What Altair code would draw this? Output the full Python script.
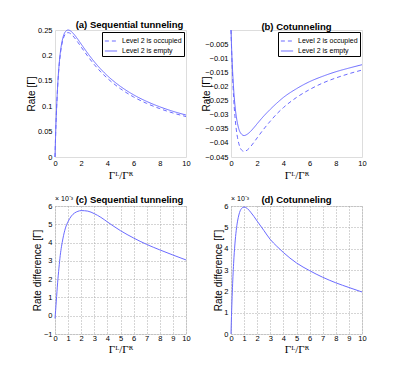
import altair as alt
import pandas as pd

# Ratio Gamma^L / Gamma^R
x_vals = [0, 0.05, 0.1, 0.2, 0.3, 0.4, 0.5, 0.6, 0.8, 1.0, 1.25, 1.5, 1.75, 2.0,
          2.5, 3.0, 3.5, 4.0, 5.0, 6.0, 7.0, 8.0, 9.0, 10.0]

# (a) Sequential tunneling rates
seq_empty = [0.0, 0.0454, 0.0826, 0.1389, 0.1775, 0.2041, 0.2222, 0.2344, 0.2469, 0.25,
             0.2469, 0.24, 0.2314, 0.2222, 0.2041, 0.1875, 0.1728, 0.16, 0.1389, 0.1224,
             0.1094, 0.0988, 0.09, 0.0826]
seq_occ = [0.0, 0.0451, 0.0818, 0.1371, 0.1749, 0.2008, 0.2184, 0.2302, 0.2421, 0.2449,
           0.2415, 0.2344, 0.2257, 0.2165, 0.1984, 0.1819, 0.1674, 0.1549, 0.1343, 0.1182,
           0.1055, 0.0952, 0.0867, 0.0796]

# (b) Cotunneling rates
cot_empty = [0.0, -0.0068, -0.0124, -0.0208, -0.0266, -0.0305, -0.0332, -0.0351, -0.0369,
             -0.0374, -0.0369, -0.0359, -0.0346, -0.0332, -0.0305, -0.0281, -0.0259,
             -0.0239, -0.0208, -0.0183, -0.0164, -0.0148, -0.0135, -0.0123]
cot_occ = [0.0, -0.0078, -0.0142, -0.0239, -0.0305, -0.0351, -0.0382, -0.0403, -0.0425,
           -0.0430, -0.0425, -0.0413, -0.0398, -0.0382, -0.0351, -0.0323, -0.0297,
           -0.0275, -0.0239, -0.0211, -0.0188, -0.0170, -0.0155, -0.0142]

# (c), (d) Rate differences (x 10^-3)
seq_diff = [-0.15, 0.3, 0.8, 1.8, 2.6, 3.3, 3.8, 4.2, 4.8, 5.15, 5.45, 5.62, 5.71, 5.75,
            5.72, 5.58, 5.38, 5.13, 4.65, 4.25, 3.9, 3.6, 3.32, 3.05]
cot_diff = [0.0, 1.08, 1.97, 3.31, 4.22, 4.86, 5.29, 5.58, 5.88, 5.95, 5.88, 5.71, 5.51,
            5.29, 4.86, 4.43, 4.11, 3.82, 3.33, 2.97, 2.66, 2.4, 2.18, 1.97]

series_names = ["Level 2 is occupied", "Level 2 is empty"]

LINE = "#6b6bff"
FONT = "Liberation Sans"
SERIF = "Liberation Serif"
XTITLE = "Γᴸ/Γᴿ"


def long_df(occ, emp):
    return pd.DataFrame({
        "x": x_vals + x_vals,
        "y": occ + emp,
        "s": [series_names[0]] * len(x_vals) + [series_names[1]] * len(x_vals),
    })


def xaxis(ticks, grid, pad, tpad):
    return alt.Axis(values=ticks, grid=grid, gridDash=[1, 2], gridColor="#aaaaaa",
                    domain=False, ticks=False, labelFontSize=7.5, labelFont=FONT,
                    labelColor="black", labelPadding=pad, title=XTITLE, titleFont=SERIF,
                    titleFontSize=11, titleFontWeight="normal", titleColor="black",
                    titlePadding=tpad, labelFlush=False)


def yaxis(ticks, grid, title, tx, fmt):
    return alt.Axis(values=ticks, grid=grid, gridDash=[1, 2], gridColor="#aaaaaa",
                    domain=False, ticks=False, labelFontSize=7.5, labelFont=FONT,
                    labelColor="black", labelPadding=3, title=title, titleFont=FONT,
                    titleFontSize=10, titleFontWeight="normal", titleColor="black",
                    titleX=tx, titleBaseline="middle", format=fmt, labelFlush=False)


def ptitle(text, dx, off):
    return alt.TitleParams(text=text, fontSize=9.5, fontWeight="bold", font=FONT,
                           color="black", offset=off, frame="group", dx=dx)


legend = alt.Legend(orient="top-right", title=None, offset=2, padding=2,
                    strokeColor="black", fillColor="white", labelFontSize=7,
                    labelFont=FONT, labelColor="black", symbolType="stroke",
                    symbolSize=150, symbolStrokeWidth=1, symbolStrokeColor=LINE,
                    rowPadding=-4, labelOffset=4, cornerRadius=0)

dash_scale = alt.Scale(domain=series_names, range=[[4, 3], [1, 0]])


def two_line_panel(occ, emp, ydom, yt, ytitle, tx, title, dx, fmt):
    return alt.Chart(long_df(occ, emp)).mark_line(
        color=LINE, strokeWidth=1, interpolate="monotone"
    ).encode(
        x=alt.X("x:Q", scale=alt.Scale(domain=[0, 10], nice=False),
                axis=xaxis([0, 2, 4, 6, 8, 10], False, 2, 3)),
        y=alt.Y("y:Q", scale=alt.Scale(domain=ydom, nice=False, zero=False),
                axis=yaxis(yt, False, ytitle, tx, fmt)),
        strokeDash=alt.StrokeDash("s:N", scale=dash_scale, legend=legend, sort=series_names),
    ).properties(width=131, height=127, title=ptitle(title, dx, -3))


def diff_panel(vals, ydom, yt, tx, title, dx):
    df = pd.DataFrame({"x": x_vals, "y": vals})
    line = alt.Chart(df).mark_line(color=LINE, strokeWidth=1, interpolate="monotone").encode(
        x=alt.X("x:Q", scale=alt.Scale(domain=[0, 10], nice=False),
                axis=xaxis(list(range(0, 11)), True, 0, 2)),
        y=alt.Y("y:Q", scale=alt.Scale(domain=ydom, nice=False, zero=False),
                axis=yaxis(yt, True, "Rate difference [Γ]", tx, "d")),
    )
    mult = alt.Chart(pd.DataFrame({"t": ["× 10⁻³"]})).mark_text(
        align="left", baseline="middle", fontSize=7, font=FONT, color="black"
    ).encode(text="t:N", x=alt.value(0), y=alt.value(-7))
    return alt.layer(line, mult).properties(width=131, height=128,
                                           title=ptitle(title, dx, -9))


pa = two_line_panel(seq_occ, seq_empty, [0, 0.25], [0, 0.05, 0.1, 0.15, 0.2, 0.25],
                    "Rate [Γ]", -24, "(a) Sequential tunneling", 9, "~g")
pb = two_line_panel(cot_occ, cot_empty, [-0.045, 0.0],
                    [-0.045, -0.04, -0.035, -0.03, -0.025, -0.02, -0.015, -0.01, -0.005],
                    "Rate [Γ]", -25, "(b) Cotunneling", 0, "~g")
pc = diff_panel(seq_diff, [-1, 6], list(range(-1, 7)), -18, "(c) Sequential tunneling", 9)
pd_ = diff_panel(cot_diff, [0, 6], list(range(0, 7)), -13, "(d) Cotunneling", 0)

chart = alt.concat(pa, pb, pc, pd_, columns=2, spacing={"row": 49, "column": 45}).properties(
    bounds="flush",
    padding={"left": 17, "top": 11, "right": 5, "bottom": 5},
).resolve_scale(strokeDash="independent").resolve_legend(
    strokeDash="independent"
).configure_view(stroke="black", strokeWidth=1).configure(background="white")

chart.save("out.html", embed_options={"renderer": "svg", "actions": False})
